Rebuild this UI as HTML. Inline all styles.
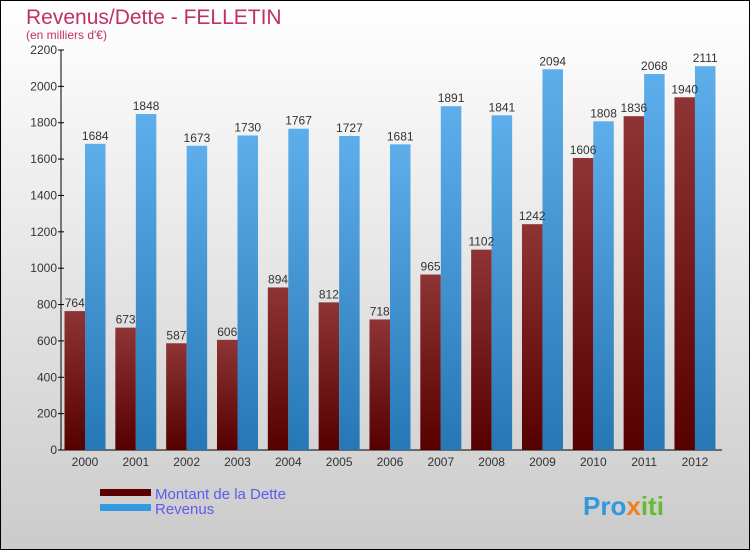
<!DOCTYPE html>
<html><head><meta charset="utf-8"><style>
body{margin:0}
svg{display:block;font-family:"Liberation Sans",sans-serif}
</style></head><body>
<svg width="750" height="550" xmlns="http://www.w3.org/2000/svg">
<defs>
<linearGradient id="bg" x1="0" y1="0" x2="0" y2="1"><stop offset="0" stop-color="#ffffff"/><stop offset="1" stop-color="#cbcbcb"/></linearGradient>
<linearGradient id="gd" x1="0" y1="0" x2="0" y2="1"><stop offset="0" stop-color="#8e3434"/><stop offset="1" stop-color="#570000"/></linearGradient>
<linearGradient id="gr" x1="0" y1="0" x2="0" y2="1"><stop offset="0" stop-color="#5daeea"/><stop offset="1" stop-color="#2677b5"/></linearGradient>
</defs>
<rect x="0.5" y="0.5" width="749" height="549" fill="url(#bg)" stroke="#000"/>
<text x="26" y="24" font-size="21" fill="#c0306a">Revenus/Dette - FELLETIN</text>
<text x="26" y="39" font-size="12" fill="#c0306a">(en milliers d'€)</text>
<g id="axes"></g>
<g id="bars"></g>
<g>
<rect x="100" y="489" width="51" height="7" fill="#5a0000"/>
<text x="155" y="499" font-size="15" fill="#5b5bef">Montant de la Dette</text>
<rect x="100" y="504" width="51" height="7" fill="#3399e0"/>
<text x="155" y="514" font-size="15" fill="#5b5bef">Revenus</text>
</g>
<text x="583" y="515" font-size="26" font-weight="bold" fill="#3399dd">Pro<tspan fill="#f08020">x</tspan><tspan fill="#66bb33">iti</tspan></text>
</svg>
<script>
const years=["2000","2001","2002","2003","2004","2005","2006","2007","2008","2009","2010","2011","2012"];
const dette=[764,673,587,606,894,812,718,965,1102,1242,1606,1836,1940];
const revenus=[1684,1848,1673,1730,1767,1727,1681,1891,1841,2094,1808,2068,2111];
const yTicks=[0,200,400,600,800,1000,1200,1400,1600,1800,2000,2200];
const NS="http://www.w3.org/2000/svg";
const y=v=>450-v*400/2200;
const xc=i=>85+i*50.83;
const bw=20.5;
function mk(t,a,p){const e=document.createElementNS(NS,t);for(const k in a)e.setAttribute(k,a[k]);p.appendChild(e);return e;}
const ax=document.getElementById('axes'),bars=document.getElementById('bars');
let l=mk('line',{x1:61,y1:50,x2:61,y2:450,stroke:'#000'},ax);


l=mk('line',{x1:61,y1:450,x2:722,y2:450,stroke:'#000'},ax);


yTicks.forEach(v=>{
 const t=mk('line',{x1:58,x2:64,y1:y(v),y2:y(v),stroke:'#000'},ax);
 
 
 const tx=mk('text',{x:57,y:y(v)+4,'font-size':12,fill:'#333','text-anchor':'end'},ax);
 tx.textContent=v;
 
 
});
years.forEach((yr,i)=>{
 const tx=mk('text',{x:xc(i),y:466,'font-size':12,fill:'#333','text-anchor':'middle'},ax);
 tx.textContent=yr;
 
 
 const b1=mk('rect',{x:xc(i)-bw,y:y(dette[i]),width:bw,height:450-y(dette[i]),fill:'url(#gd)'},bars);
 
 
 const b2=mk('rect',{x:xc(i),y:y(revenus[i]),width:bw,height:450-y(revenus[i]),fill:'url(#gr)'},bars);
 
 
 const t1=mk('text',{x:xc(i)-bw/2,y:y(dette[i])-4,'font-size':12,fill:'#333','text-anchor':'middle'},bars);
 t1.textContent=dette[i];
 
 
 const t2=mk('text',{x:xc(i)+bw/2,y:y(revenus[i])-4,'font-size':12,fill:'#333','text-anchor':'middle'},bars);
 t2.textContent=revenus[i];
 
 
});
</script>
</body></html>
